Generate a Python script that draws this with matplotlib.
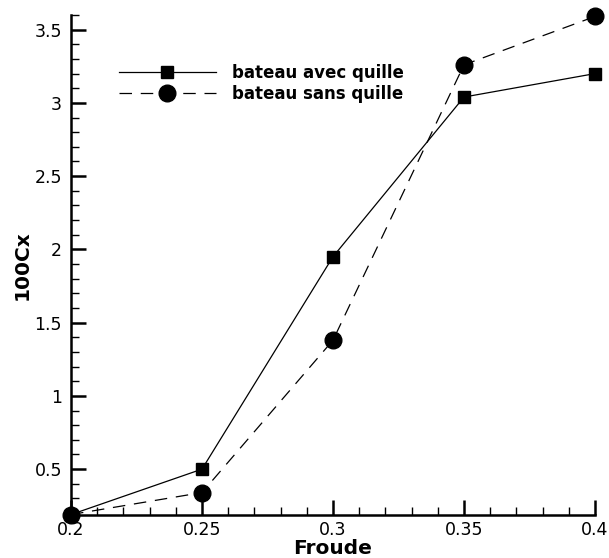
import matplotlib.pyplot as plt
from matplotlib.ticker import MultipleLocator, FuncFormatter

froude = [0.2, 0.25, 0.3, 0.35, 0.4]
avec_quille = [0.19, 0.50, 1.95, 3.04, 3.20]
sans_quille = [0.19, 0.34, 1.38, 3.26, 3.59]

plt.rcParams['font.family'] = ['DejaVu Sans']

fig = plt.figure(figsize=(6.09, 5.58), dpi=100)
ax = fig.add_axes([0.1166, 0.0771, 0.8604, 0.8960])

ax.plot(froude, avec_quille, color='black', lw=0.9, marker='s', ms=8.5,
        label='bateau avec quille', clip_on=False, zorder=3)
ax.plot(froude, sans_quille, color='black', lw=0.9, ls=(0, (10, 7)), marker='o', ms=12,
        label='bateau sans quille', clip_on=False, zorder=3)

ax.set_xlim(0.2, 0.4)
ax.set_ylim(0.187, 3.6)

ax.xaxis.set_major_locator(MultipleLocator(0.05))
ax.xaxis.set_minor_locator(MultipleLocator(0.01))
ax.yaxis.set_major_locator(MultipleLocator(0.5))
ax.yaxis.set_minor_locator(MultipleLocator(0.1))
fmt = FuncFormatter(lambda v, p: '%g' % round(v, 4))
ax.xaxis.set_major_formatter(fmt)
ax.yaxis.set_major_formatter(fmt)

for s in ['top', 'right']:
    ax.spines[s].set_visible(False)
for s in ['left', 'bottom']:
    ax.spines[s].set_linewidth(1.8)

ax.tick_params(which='major', direction='in', length=11, width=1.8, labelsize=12.5)
ax.tick_params(axis='y', which='major', pad=6.5)
ax.tick_params(axis='x', which='major', pad=4.5)
ax.tick_params(which='minor', direction='in', length=6, width=1)

ax.set_xlabel('Froude', fontsize=14.5, fontweight='bold', labelpad=0)
ax.set_ylabel('100Cx', fontsize=14.5, fontweight='bold', labelpad=2)

ax.legend(loc='upper left', bbox_to_anchor=(0.0916, 0.902), frameon=False, handlelength=5.8,
          handletextpad=1.0, labelspacing=0.17, borderpad=0, borderaxespad=0,
          prop={'size': 12, 'weight': 'bold'})

fig.savefig('out.png', dpi=100)
